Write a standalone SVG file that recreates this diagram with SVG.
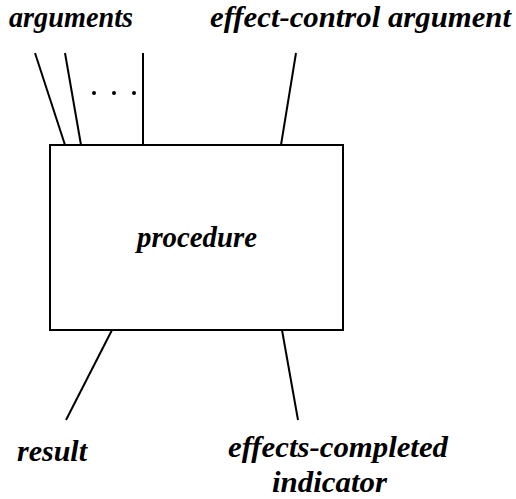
<svg xmlns="http://www.w3.org/2000/svg" width="516" height="499" viewBox="0 0 516 499">
<style>
text{font-family:"Liberation Serif","DejaVu Serif",serif;font-style:italic;font-weight:bold;font-size:29px;fill:#000}
.ln{stroke:#000;stroke-width:2;fill:none}
</style>
<rect width="516" height="499" fill="#fff"/>
<g id="procedure">
<rect x="50" y="145" width="293" height="185" class="ln"/>
<text x="137" y="247" textLength="120" lengthAdjust="spacingAndGlyphs">procedure</text>
</g>
<g id="arguments"><text x="9" y="27" textLength="124" lengthAdjust="spacingAndGlyphs">arguments</text></g>
<g id="effect-control"><text x="210" y="27" textLength="301" lengthAdjust="spacingAndGlyphs">effect-control argument</text></g>
<g id="result"><text x="17" y="461" textLength="70" lengthAdjust="spacingAndGlyphs">result</text></g>
<g id="effects-completed"><text x="228" y="457" textLength="220" lengthAdjust="spacingAndGlyphs">effects-completed</text><text x="272" y="492" textLength="115" lengthAdjust="spacingAndGlyphs">indicator</text></g>
<g id="connectors">
<line x1="35" y1="53" x2="65" y2="145" class="ln"/>
<line x1="65" y1="53" x2="81" y2="145" class="ln"/>
<line x1="143" y1="53" x2="143" y2="145" class="ln"/>
<circle cx="94" cy="93" r="2"/><circle cx="114" cy="93" r="2"/><circle cx="134" cy="93" r="2"/>
<line x1="296" y1="53" x2="281" y2="145" class="ln"/>
<line x1="112" y1="330" x2="66" y2="420" class="ln"/>
<line x1="282" y1="330" x2="298" y2="420" class="ln"/>
</g>
</svg>
